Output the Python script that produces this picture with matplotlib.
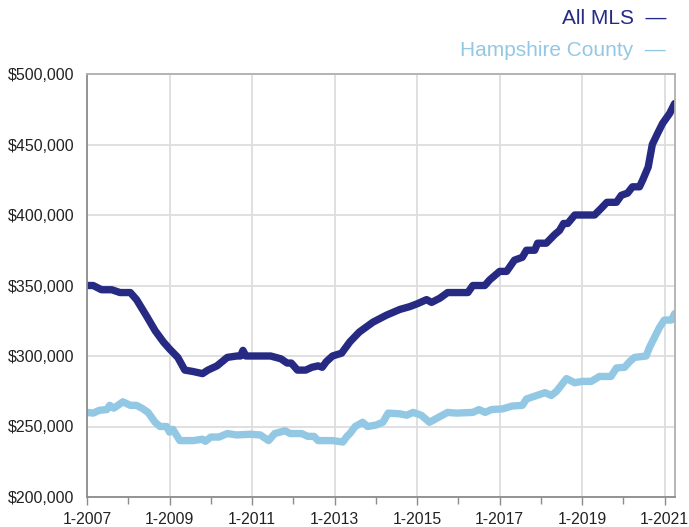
import matplotlib
matplotlib.use("Agg")
import matplotlib.pyplot as plt
from matplotlib.ticker import FuncFormatter, MultipleLocator, FixedLocator

plt.rcParams['font.family'] = ['Liberation Sans', 'DejaVu Sans']

# decimal years, prices in thousands of dollars
mls_t = [2007.0, 2007.15, 2007.35, 2007.6, 2007.8, 2008.05, 2008.2, 2008.45, 2008.65, 2008.85,
         2009.0, 2009.2, 2009.37, 2009.57, 2009.8, 2009.93, 2010.15, 2010.4, 2010.63, 2010.72,
         2010.78, 2010.85, 2011.0, 2011.45, 2011.7, 2011.85, 2011.95, 2012.1, 2012.3, 2012.45,
         2012.6, 2012.7, 2012.8, 2012.95, 2013.17, 2013.37, 2013.6, 2013.93, 2014.26, 2014.58,
         2014.82, 2015.0, 2015.23, 2015.35, 2015.55, 2015.74, 2016.23, 2016.35, 2016.64, 2016.76,
         2017.0, 2017.17, 2017.36, 2017.55, 2017.65, 2017.85, 2017.92, 2018.13, 2018.33, 2018.45,
         2018.55, 2018.65, 2018.82, 2019.3, 2019.47, 2019.6, 2019.83, 2019.95, 2020.1, 2020.22,
         2020.39, 2020.47, 2020.6, 2020.7, 2020.83, 2020.95, 2021.12, 2021.24]
mls_v = [350, 350, 347, 347, 345, 345, 340, 328, 318, 310,
         305, 299, 290, 289, 287.5, 290, 293, 299, 300, 300,
         304, 300, 300, 300, 298, 295, 295, 290, 290, 292,
         293, 292, 296, 300, 302, 310, 317, 324, 329, 333,
         335, 337, 340, 338, 341, 345, 345, 350, 350, 354,
         360, 360, 368, 370, 375, 375, 380, 380, 386, 389,
         394, 394, 400, 400, 405, 409, 409, 414, 415.5, 420,
         420, 425, 434, 450, 458, 465, 472, 479]

hamp_t = [2007.0, 2007.15, 2007.3, 2007.48, 2007.55, 2007.65, 2007.87, 2008.05, 2008.2, 2008.33,
          2008.48, 2008.65, 2008.77, 2008.93, 2009.0, 2009.08, 2009.25, 2009.57, 2009.8, 2009.87,
          2010.0, 2010.2, 2010.4, 2010.63, 2010.95, 2011.2, 2011.4, 2011.55, 2011.8, 2011.92,
          2012.2, 2012.35, 2012.5, 2012.6, 2012.95, 2013.2, 2013.3, 2013.37, 2013.5, 2013.68,
          2013.8, 2014.0, 2014.17, 2014.3, 2014.58, 2014.75, 2014.9, 2015.1, 2015.3, 2015.55,
          2015.74, 2015.95, 2016.35, 2016.5, 2016.65, 2016.8, 2017.07, 2017.3, 2017.55, 2017.65,
          2017.9, 2018.1, 2018.25, 2018.38, 2018.62, 2018.82, 2019.0, 2019.22, 2019.42, 2019.7,
          2019.83, 2020.03, 2020.15, 2020.27, 2020.55, 2020.63, 2020.75, 2020.87, 2020.99, 2021.16,
          2021.24]
hamp_v = [260, 259.5, 261.5, 262, 265, 263, 267.5, 265, 265, 263,
          260, 253, 250, 250, 246, 248, 240, 240, 241, 239.5,
          242.5, 242.5, 245, 244, 244.5, 244, 240, 245, 247, 245,
          245, 243, 243, 240, 240, 239, 243, 245, 250, 253,
          250, 251, 253, 259.5, 259, 258, 260, 258, 253, 257,
          260, 259.5, 260, 262, 260, 262, 262.5, 264.5, 265, 269.5,
          272, 274, 272, 275, 284, 281, 282, 282, 285.5, 285.5,
          291.5, 292, 296, 299, 300, 306, 313, 320, 325.5, 325.5,
          330]

tick_years = list(range(2007, 2022, 2))
series_names = ["All MLS", "Hampshire County"]
series_colors = ["#272a83", "#93c8e4"]

fig = plt.figure(figsize=(6.89, 5.27), dpi=100)
ax = fig.add_axes([87 / 689, 30 / 527, 588 / 689, 423 / 527])

ax.plot(hamp_t, [v * 1000 for v in hamp_v], color=series_colors[1], lw=5.3,
        solid_joinstyle='round', solid_capstyle='round')
ax.plot(mls_t, [v * 1000 for v in mls_v], color=series_colors[0], lw=5.3,
        solid_joinstyle='round', solid_capstyle='round')

ax.set_xlim(2007, 2021.25)
ax.set_ylim(200000, 500000)
ax.xaxis.set_major_locator(FixedLocator(tick_years))
ax.xaxis.set_minor_locator(MultipleLocator(1))
ax.yaxis.set_major_locator(MultipleLocator(50000))
ax.xaxis.set_major_formatter(FuncFormatter(lambda x, p: "1-%d" % round(x)))
ax.yaxis.set_major_formatter(FuncFormatter(lambda y, p: "${:,.0f}".format(y)))

ax.grid(True, color="#dddddd", lw=1.3)
ax.set_axisbelow(True)
for s in ax.spines.values():
    s.set_color("#8c8c8c")
    s.set_linewidth(1.3)
ax.spines['top'].set_color("#b0b0b0")
ax.spines['right'].set_color("#b0b0b0")

ax.tick_params(axis='y', length=0, pad=9, labelsize=11.5, labelcolor="#222222")
ax.tick_params(axis='x', which='major', length=6, width=1, color="#8c8c8c",
               pad=5, labelsize=11.3, labelcolor="#222222")
ax.tick_params(axis='x', which='minor', length=5, width=1, color="#8c8c8c")

# legend text at top right
fig.text(666 / 689, 1 - 18 / 527, series_names[0] + "  \u2014", color=series_colors[0],
         fontsize=15, ha='right', va='center')
fig.text(666 / 689, 1 - 50 / 527, series_names[1] + "  \u2014", color=series_colors[1],
         fontsize=15, ha='right', va='center')

fig.savefig("out.png", dpi=100)
